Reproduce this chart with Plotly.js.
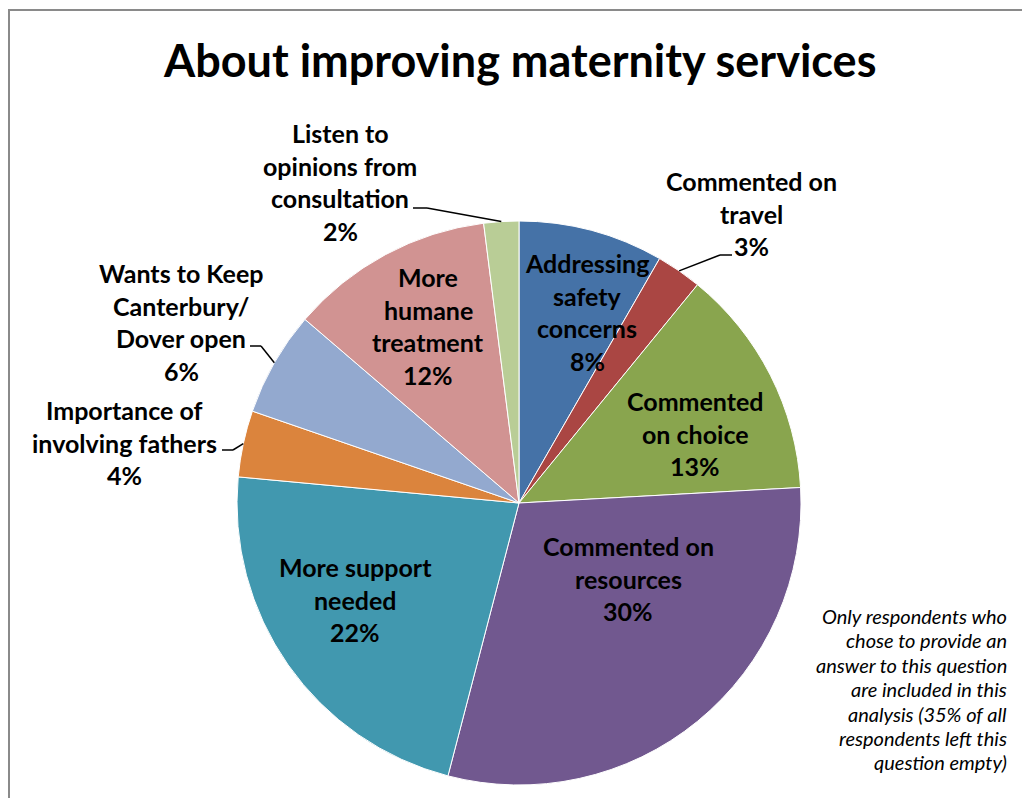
<!DOCTYPE html>
<html>
<head>
<meta charset="utf-8">
<script src="https://cdn.plot.ly/plotly-3.0.1.min.js"></script>
<style>html,body{margin:0;padding:0;background:#fff;}#chart{width:1022px;height:798px;}</style>
</head>
<body>
<div id="chart"></div>
<script>
// ---- data ----
const categories = ['Addressing safety concerns', 'Commented on travel', 'Commented on choice',
  'Commented on resources', 'More support needed', 'Importance of involving fathers',
  'Wants to Keep Canterbury/ Dover open', 'More humane treatment', 'Listen to opinions from consultation'];
const values = [8.3, 2.6, 13.2, 29.9, 22.4, 3.8, 6.0, 11.7, 2.0];
const labelLines = [
  ['Addressing', 'safety', 'concerns'],
  ['Commented on', 'travel'],
  ['Commented', 'on choice'],
  ['Commented on', 'resources'],
  ['More support', 'needed'],
  ['Importance of', 'involving fathers'],
  ['Wants to Keep', 'Canterbury/', 'Dover open'],
  ['More', 'humane', 'treatment'],
  ['Listen to', 'opinions from', 'consultation']
];
const titleText = 'About improving maternity services';
const noteLines = ['Only respondents who', 'chose to provide an', 'answer to this question',
  'are included in this', 'analysis (35% of all', 'respondents left this', 'question empty)'];

// ---- styling / layout ----
const colors = ['#4572A7', '#AA4643', '#89A54E', '#71588F', '#4198AF', '#DB843D', '#93A9CF', '#D19392', '#B9CD96'];
const W = 1022, H = 798;
const cx = 519, cy = 503, R = 282;
const px = x => x / W;
const py = y => 1 - y / H;

// label anchor (center x, first-line center y) in pixels
const labelPos = [[587, 263], [751, 181], [695, 401], [628, 546], [355, 567], [124, 410], [181, 273], [428, 277], [340, 133]];
const lineGap = 32.7;
// leader lines for outside labels: [index, text end point, elbow point]
const leaders = [
  [1, [732, 255], [720, 255]],
  [5, [222, 450], [233, 450]],
  [6, [250, 346], [261, 346]],
  [8, [413, 208], [427, 208]]
];

const total = values.reduce((a, b) => a + b, 0);
const pct = values.map(v => Math.round(v / total * 100) + '%');

const labelFont = {family: 'Lato, "Open Sans", sans-serif', size: 25, color: '#000'};
const annotations = [];
labelLines.forEach((lines, i) => {
  const all = lines.concat([pct[i]]);
  all.forEach((t, k) => {
    annotations.push({
      xref: 'paper', yref: 'paper', x: px(labelPos[i][0]), y: py(labelPos[i][1] + k * lineGap),
      xanchor: 'center', yanchor: 'middle', showarrow: false,
      text: '<b>' + t + '</b>', font: labelFont
    });
  });
});
noteLines.forEach((t, k) => {
  annotations.push({
    xref: 'paper', yref: 'paper', x: px(1009), y: py(616 + k * 24.4),
    xanchor: 'right', yanchor: 'middle', showarrow: false,
    text: '<i>' + t + '</i>', font: {family: 'Lato, "Open Sans", sans-serif', size: 20, color: '#000'}
  });
});

// leader lines: from slice edge (mid-angle of slice, computed from data) -> elbow -> text
let cum = 0;
const mids = values.map(v => { const m = cum + v / 2; cum += v; return m / total * 2 * Math.PI; });
const shapes = [];
leaders.forEach(([i, end, elbow]) => {
  const a = mids[i];
  const ex = cx + R * Math.sin(a), ey = cy - R * Math.cos(a);
  shapes.push({type: 'line', xref: 'paper', yref: 'paper', x0: px(ex), y0: py(ey), x1: px(elbow[0]), y1: py(elbow[1]), line: {color: '#000', width: 1.5}});
  shapes.push({type: 'line', xref: 'paper', yref: 'paper', x0: px(elbow[0]), y0: py(elbow[1]), x1: px(end[0]), y1: py(end[1]), line: {color: '#000', width: 1.5}});
});
// chart border
shapes.push({type: 'rect', xref: 'paper', yref: 'paper', x0: px(9), x1: 1.05, y0: -0.05, y1: py(10), line: {color: '#8a8a8a', width: 2}});

annotations.push({
  xref: 'paper', yref: 'paper', x: px(519), y: py(60), xanchor: 'center', yanchor: 'middle', showarrow: false,
  text: '<b>' + titleText + '</b>', font: {family: 'Lato, "Open Sans", sans-serif', size: 45, color: '#000'}
});

const trace = {
  type: 'pie', labels: categories, values: values, sort: false, direction: 'clockwise', rotation: 0,
  marker: {colors: colors, line: {color: '#ffffff', width: 1}},
  textinfo: 'none', hoverinfo: 'label+percent', showlegend: false,
  domain: {x: [px(cx - R), px(cx + R)], y: [py(cy + R), py(cy - R)]}
};

const layout = {
  width: W, height: H, margin: {l: 0, r: 0, t: 0, b: 0},
  paper_bgcolor: '#ffffff', showlegend: false,
  annotations: annotations, shapes: shapes
};
Plotly.newPlot('chart', [trace], layout, {displayModeBar: false, staticPlot: true});
</script>
</body>
</html>
